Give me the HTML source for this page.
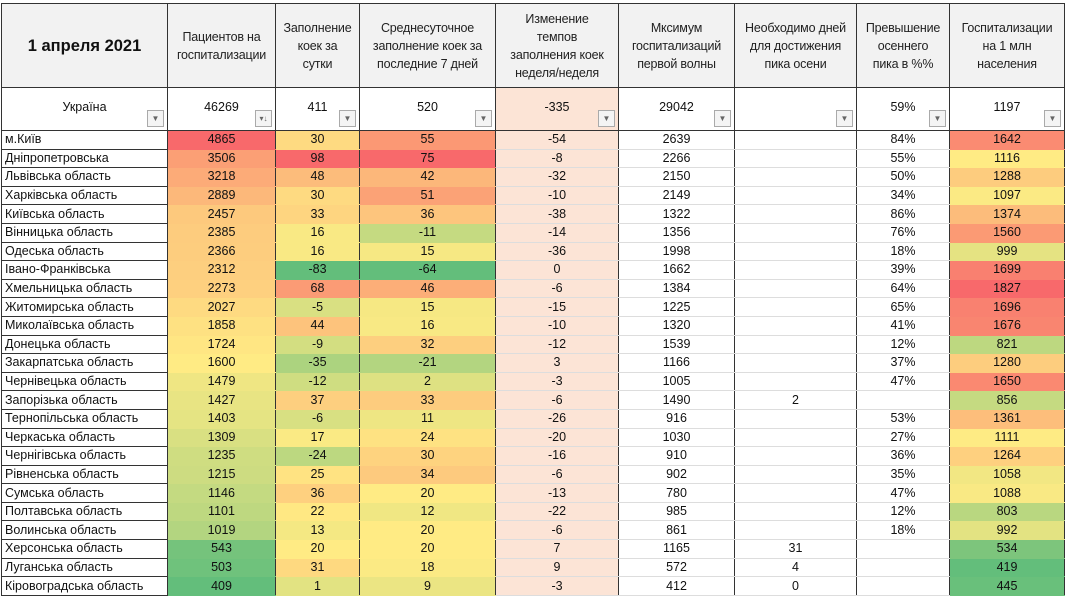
<!DOCTYPE html>
<html><head><meta charset="utf-8"><style>
body{margin:0;background:#fff;width:1066px;height:600px;overflow:hidden;font-family:"Liberation Sans","DejaVu Sans",sans-serif;}
table{position:absolute;left:1px;top:3px;border-collapse:collapse;table-layout:fixed;}
td{border-left:1.5px solid #333;border-right:1.5px solid #333;padding:0;text-align:center;font-size:12.5px;color:#111;overflow:hidden;white-space:nowrap;}
tr.h td{height:83px;border-top:1.5px solid #333;border-bottom:1.5px solid #333;background:#f2f2f2;line-height:18px;font-size:12.5px;color:#222;letter-spacing:-0.2px;}
tr.h td.t{font-weight:bold;font-size:16.5px;color:#111;letter-spacing:0;}
tr.u td{height:42px;border-bottom:1.5px solid #333;background:#fff;position:relative;}
tr.d td{height:17.6px;line-height:17px;border-bottom:1px solid #ddd;}
tr.d td:first-child{text-align:left;padding-left:3px;border-bottom:1px solid #333;background:#fff;}
td.pe{background:#fce4d6 !important;}
.f{position:absolute;right:3px;bottom:3px;width:15px;height:15px;border:1px solid #aaa;background:#f4f4f4;font-size:8px;line-height:15px;color:#666;text-align:center;}
.ut{position:relative;top:-2px;}
</style></head><body>
<table>
<colgroup><col style="width:166px"><col style="width:108px"><col style="width:84px"><col style="width:136px"><col style="width:123px"><col style="width:116px"><col style="width:122px"><col style="width:93px"><col style="width:115px"></colgroup>
<tr class="h"><td class="t">1 апреля 2021</td><td>Пациентов на<br>госпитализации</td><td>Заполнение<br>коек за<br>сутки</td><td>Среднесуточное<br>заполнение коек за<br>последние 7 дней</td><td>Изменение<br>темпов<br>заполнения коек<br>неделя/неделя</td><td>Мксимум<br>госпитализаций<br>первой волны</td><td>Необходимо дней<br>для достижения<br>пика осени</td><td>Превышение<br>осеннего<br>пика в %%</td><td>Госпитализации<br>на 1 млн<br>населения</td></tr>
<tr class="u"><td><span class="ut">Україна</span><div class="f">▼</div></td><td><span class="ut">46269</span><div class="f">▾↓</div></td><td><span class="ut">411</span><div class="f">▼</div></td><td><span class="ut">520</span><div class="f">▼</div></td><td class="pe"><span class="ut">-335</span><div class="f">▼</div></td><td><span class="ut">29042</span><div class="f">▼</div></td><td><div class="f">▼</div></td><td><span class="ut">59%</span><div class="f">▼</div></td><td><span class="ut">1197</span><div class="f">▼</div></td></tr>
<tr class="d"><td>м.Київ</td><td>4865</td><td>30</td><td>55</td><td class="pe">-54</td><td>2639</td><td></td><td>84%</td><td>1642</td></tr>
<tr class="d"><td>Дніпропетровська</td><td>3506</td><td>98</td><td>75</td><td class="pe">-8</td><td>2266</td><td></td><td>55%</td><td>1116</td></tr>
<tr class="d"><td>Львівська область</td><td>3218</td><td>48</td><td>42</td><td class="pe">-32</td><td>2150</td><td></td><td>50%</td><td>1288</td></tr>
<tr class="d"><td>Харківська область</td><td>2889</td><td>30</td><td>51</td><td class="pe">-10</td><td>2149</td><td></td><td>34%</td><td>1097</td></tr>
<tr class="d"><td>Київська область</td><td>2457</td><td>33</td><td>36</td><td class="pe">-38</td><td>1322</td><td></td><td>86%</td><td>1374</td></tr>
<tr class="d"><td>Вінницька область</td><td>2385</td><td>16</td><td>-11</td><td class="pe">-14</td><td>1356</td><td></td><td>76%</td><td>1560</td></tr>
<tr class="d"><td>Одеська область</td><td>2366</td><td>16</td><td>15</td><td class="pe">-36</td><td>1998</td><td></td><td>18%</td><td>999</td></tr>
<tr class="d"><td>Івано-Франківська</td><td>2312</td><td>-83</td><td>-64</td><td class="pe">0</td><td>1662</td><td></td><td>39%</td><td>1699</td></tr>
<tr class="d"><td>Хмельницька область</td><td>2273</td><td>68</td><td>46</td><td class="pe">-6</td><td>1384</td><td></td><td>64%</td><td>1827</td></tr>
<tr class="d"><td>Житомирська область</td><td>2027</td><td>-5</td><td>15</td><td class="pe">-15</td><td>1225</td><td></td><td>65%</td><td>1696</td></tr>
<tr class="d"><td>Миколаївська область</td><td>1858</td><td>44</td><td>16</td><td class="pe">-10</td><td>1320</td><td></td><td>41%</td><td>1676</td></tr>
<tr class="d"><td>Донецька область</td><td>1724</td><td>-9</td><td>32</td><td class="pe">-12</td><td>1539</td><td></td><td>12%</td><td>821</td></tr>
<tr class="d"><td>Закарпатська область</td><td>1600</td><td>-35</td><td>-21</td><td class="pe">3</td><td>1166</td><td></td><td>37%</td><td>1280</td></tr>
<tr class="d"><td>Чернівецька область</td><td>1479</td><td>-12</td><td>2</td><td class="pe">-3</td><td>1005</td><td></td><td>47%</td><td>1650</td></tr>
<tr class="d"><td>Запорізька область</td><td>1427</td><td>37</td><td>33</td><td class="pe">-6</td><td>1490</td><td>2</td><td></td><td>856</td></tr>
<tr class="d"><td>Тернопільська область</td><td>1403</td><td>-6</td><td>11</td><td class="pe">-26</td><td>916</td><td></td><td>53%</td><td>1361</td></tr>
<tr class="d"><td>Черкаська область</td><td>1309</td><td>17</td><td>24</td><td class="pe">-20</td><td>1030</td><td></td><td>27%</td><td>1111</td></tr>
<tr class="d"><td>Чернігівська область</td><td>1235</td><td>-24</td><td>30</td><td class="pe">-16</td><td>910</td><td></td><td>36%</td><td>1264</td></tr>
<tr class="d"><td>Рівненська область</td><td>1215</td><td>25</td><td>34</td><td class="pe">-6</td><td>902</td><td></td><td>35%</td><td>1058</td></tr>
<tr class="d"><td>Сумська область</td><td>1146</td><td>36</td><td>20</td><td class="pe">-13</td><td>780</td><td></td><td>47%</td><td>1088</td></tr>
<tr class="d"><td>Полтавська область</td><td>1101</td><td>22</td><td>12</td><td class="pe">-22</td><td>985</td><td></td><td>12%</td><td>803</td></tr>
<tr class="d"><td>Волинська область</td><td>1019</td><td>13</td><td>20</td><td class="pe">-6</td><td>861</td><td></td><td>18%</td><td>992</td></tr>
<tr class="d"><td>Херсонська область</td><td>543</td><td>20</td><td>20</td><td class="pe">7</td><td>1165</td><td>31</td><td></td><td>534</td></tr>
<tr class="d"><td>Луганська область</td><td>503</td><td>31</td><td>18</td><td class="pe">9</td><td>572</td><td>4</td><td></td><td>419</td></tr>
<tr class="d"><td>Кіровоградська область</td><td>409</td><td>1</td><td>9</td><td class="pe">-3</td><td>412</td><td>0</td><td></td><td>445</td></tr>
</table>
<script>
var rows=[].slice.call(document.querySelectorAll('tr.d'));
var G=[99,190,123],Y=[255,235,132],R=[248,105,107];
function mix(a,b,t){return 'rgb('+a.map(function(v,i){return Math.round(v+(b[i]-v)*t)}).join(',')+')';}
[1,2,3,8].forEach(function(c){
 var vals=rows.map(function(r){return parseFloat(r.cells[c].textContent)});
 var s=vals.slice().sort(function(a,b){return a-b});
 var mn=s[0],mx=s[s.length-1],n=s.length,p=(n-1)*0.5,md=s[Math.floor(p)]+(s[Math.ceil(p)]-s[Math.floor(p)])*(p-Math.floor(p));
 rows.forEach(function(r,i){var v=vals[i],col;
  if(v<=md){col=mix(G,Y,md==mn?1:(v-mn)/(md-mn));}else{col=mix(Y,R,(v-md)/(mx-md));}
  r.cells[c].style.background=col;r.cells[c].style.borderBottomColor=col;});
});
</script>
</body></html>
